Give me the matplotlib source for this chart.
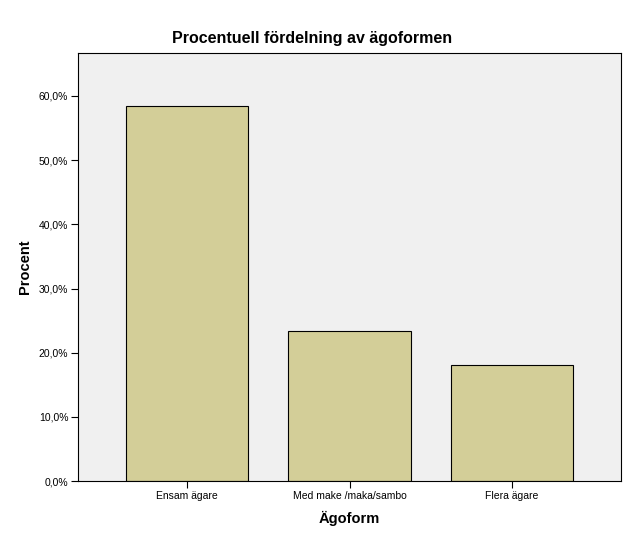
import matplotlib
matplotlib.use('Agg')
import matplotlib.pyplot as plt

categories = ['Ensam ägare', 'Med make /maka/sambo', 'Flera ägare']
percent = [58.5, 23.4, 18.1]
yticks = [0, 10, 20, 30, 40, 50, 60]

plt.rcParams['font.family'] = ['Liberation Sans', 'DejaVu Sans']

fig = plt.figure(figsize=(6.25, 5.4), dpi=100)
ax = fig.add_axes([0.1248, 0.109, 0.8688, 0.793])
ax.set_facecolor('#F0F0F0')

x = range(len(categories))
ax.bar(x, percent, width=0.755, color='#D3CE98', edgecolor='black', linewidth=0.8, zorder=2)

ax.set_xlim(-0.67, 2.67)
ax.set_ylim(0, 66.7)
ax.set_xticks(list(x))
ax.set_xticklabels(categories, fontsize=7.5)
ax.set_yticks(yticks)
ax.set_yticklabels([f'{v:.1f}%'.replace('.', ',') for v in yticks], fontsize=7.5)
ax.tick_params(axis='both', direction='out', length=5, width=0.8, pad=2)

for s in ax.spines.values():
    s.set_linewidth(0.8)

ax.set_xlabel('Ägoform', fontsize=10.5, fontweight='bold', labelpad=7)
ax.set_ylabel('Procent', fontsize=10.5, fontweight='bold', labelpad=5)
fig.suptitle('Procentuell fördelning av ägoformen', fontsize=11.5, fontweight='bold', x=0.5, y=0.943)

fig.savefig('out.png', dpi=100)
